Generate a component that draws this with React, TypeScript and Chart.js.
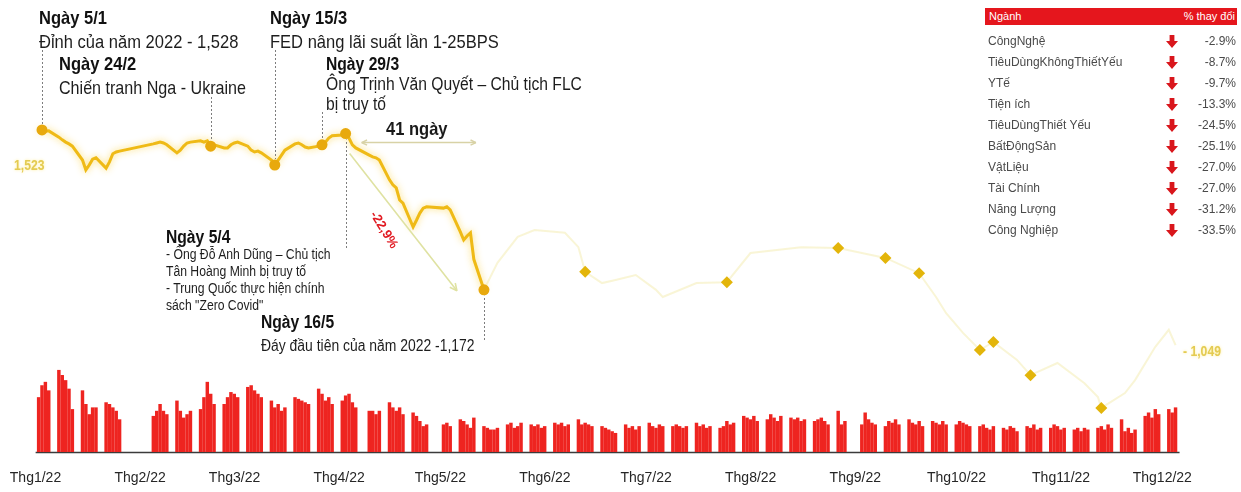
import { useEffect, useRef } from 'react';
import { Chart, registerables } from 'chart.js';

Chart.register(...registerables);

// ---- calendar -------------------------------------------------------------
const holidays = [
  '2022-01-03', '2022-01-31', '2022-02-01', '2022-02-02', '2022-02-03', '2022-02-04',
  '2022-04-11', '2022-05-02', '2022-05-03', '2022-09-01', '2022-09-02',
];
const firstSession = '2022-01-04';
const lastSession = '2022-12-07';

const monthLabels = [
  'Thg1/22', 'Thg2/22', 'Thg3/22', 'Thg4/22', 'Thg5/22', 'Thg6/22',
  'Thg7/22', 'Thg8/22', 'Thg9/22', 'Thg10/22', 'Thg11/22', 'Thg12/22',
];

// ---- HOSE matched volume per session (million shares) ----------------------
const volJan = [832, 1014, 1066, 936, 1248, 1170, 1092, 962, 650, 936, 728, 572, 676, 676, 754, 728, 676, 624, 494];
const volFeb = [546, 624, 728, 624, 572, 780, 624, 520, 572, 624, 650, 832, 1066, 884, 728, 728];
const volMar = [832, 910, 884, 832, 988, 1014, 936, 884, 832, 780, 676, 728, 624, 676, 832, 806, 780, 754, 728, 962, 884, 780, 832];
const volApr = [728, 780, 858, 884, 754, 676, 624, 624, 572, 624, 754, 676, 624, 676, 572, 598, 546, 468, 390, 416];
const volMay = [416, 442, 390, 494, 468, 416, 364, 520, 390, 364, 338, 338, 364, 416, 442, 364, 390, 442, 416, 390];
const volJun = [416, 364, 390, 442, 416, 442, 390, 416, 494, 416, 442, 416, 390, 390, 364, 338, 312, 286, 416, 364, 390, 338];
const volJul = [390, 442, 390, 364, 416, 390, 390, 416, 390, 364, 390, 442, 390, 416, 364, 390, 364, 390, 468, 416, 442];
const volAug = [546, 520, 494, 546, 468, 494, 572, 520, 468, 546, 520, 494, 520, 468, 494, 468, 494, 520, 468, 416, 624, 416, 468];
const volSep = [416, 598, 494, 442, 416, 390, 468, 442, 494, 416, 494, 442, 416, 468, 390, 468, 442, 416, 468, 416];
const volOct = [416, 468, 442, 416, 390, 390, 416, 364, 338, 390, 364, 338, 390, 364, 312, 390, 364, 416, 338, 364, 364];
const volNov = [416, 390, 338, 364, 338, 364, 312, 364, 338, 364, 390, 338, 416, 364, 494, 312, 364, 286, 338, 546, 598, 520];
const volDec = [650, 572, 650, 598, 676];

// ---- VN-Index close, 4/1 - 16/5 (every session) ----------------------------
const idxJan = [1523, 1528, 1525, 1526, 1512, 1506, 1501, 1497, 1492, 1461, 1439, 1450, 1463, 1466, 1443, 1457, 1475, 1479, 1481];
const idxFeb = [1497, 1499, 1501, 1499, 1495, 1477, 1483, 1492, 1499, 1501, 1504, 1501, 1504, 1492, 1495, 1488];
const idxMar = [1488, 1495, 1499, 1501, 1492, 1483, 1479, 1481, 1477, 1461, 1450, 1461, 1472, 1483, 1497, 1499, 1495, 1490, 1488, 1492, 1495, 1501, 1510];
const idxApr = [1515, 1517, 1520, 1510, 1495, 1488, 1472, 1468, 1466, 1461, 1417, 1406, 1399, 1372, 1365, 1312, 1327, 1343, 1354, 1357];
const idxMay = [1354, 1357, 1350, 1301, 1283, 1292, 1299, 1240, 1172];

// ---- VN-Index after the first bottom ---------------------------------------
const laterDates = [
  '2022-05-16', '2022-05-20', '2022-05-26', '2022-05-31', '2022-06-09', '2022-06-13', '2022-06-15',
  '2022-06-20', '2022-06-24', '2022-06-30', '2022-07-06', '2022-07-08', '2022-07-18', '2022-07-27',
  '2022-08-03', '2022-08-18', '2022-08-29', '2022-09-12', '2022-09-22', '2022-09-27', '2022-09-30',
  '2022-10-05', '2022-10-10', '2022-10-14', '2022-10-21', '2022-10-25', '2022-11-02', '2022-11-10',
  '2022-11-14', '2022-11-15', '2022-11-22', '2022-11-25', '2022-12-01', '2022-12-05', '2022-12-07',
];
const laterValues = [
  1172, 1232, 1290, 1305, 1299, 1267, 1212,
  1187, 1194, 1205, 1172, 1156, 1187, 1189,
  1254, 1267, 1265, 1243, 1209, 1156, 1120,
  1076, 1038, 1056, 1016, 982, 1009, 964,
  933, 909, 942, 971, 1045, 1083, 1049,
];

const eventDates = ['2022-01-05', '2022-02-24', '2022-03-15', '2022-03-29', '2022-04-05', '2022-05-16'];
const laterMarkDates = [
  '2022-06-15', '2022-07-27', '2022-08-29', '2022-09-12', '2022-09-22',
  '2022-10-10', '2022-10-14', '2022-10-25', '2022-11-15',
];

// ---- sector performance -----------------------------------------------------
const sectorNames = [
  'CôngNghệ', 'TiêuDùngKhôngThiếtYếu', 'YTế', 'Tiện ích', 'TiêuDùngThiết Yếu',
  'BấtĐộngSản', 'VậtLiệu', 'Tài Chính', 'Năng Lượng', 'Công Nghiệp',
];
const sectorChanges = [-2.9, -8.7, -9.7, -13.3, -24.5, -25.1, -27.0, -27.0, -31.2, -33.5];

// ---- helpers ----------------------------------------------------------------
const dayOfYear = (iso: string) => {
  const [yy, mm, dd] = iso.split('-').map(Number);
  return (Date.UTC(yy, mm - 1, dd) - Date.UTC(yy, 0, 1)) / 86400000 + 1;
};

const sessionsByMonth: number[][] = Array.from({ length: 12 }, () => []);
{
  const hol = new Set(holidays);
  const start = Date.UTC(2022, 0, 1);
  const end = Date.UTC(2022, 11, 7);
  for (let t = start; t <= end; t += 86400000) {
    const d = new Date(t);
    const iso = d.toISOString().slice(0, 10);
    const dow = d.getUTCDay();
    if (dow === 0 || dow === 6 || hol.has(iso)) continue;
    sessionsByMonth[d.getUTCMonth()].push(dayOfYear(iso));
  }
}

const bySession = (months: number[][]) =>
  months.flatMap((arr, m) => arr.map((v, i) => ({ x: sessionsByMonth[m][i], y: v })));

const volumePts = bySession([volJan, volFeb, volMar, volApr, volMay, volJun, volJul, volAug, volSep, volOct, volNov, volDec]);
const solidPts = bySession([idxJan, idxFeb, idxMar, idxApr, idxMay]);
const laterPts = laterDates.map((d, i) => ({ x: dayOfYear(d), y: laterValues[i] }));
const eventPts = eventDates.map((d) => solidPts.find((p) => p.x === dayOfYear(d))!);
const laterMarks = laterMarkDates.map((d) => laterPts.find((p) => p.x === dayOfYear(d))!);
const monthStarts = monthLabels.map((_, m) => dayOfYear(`2022-${String(m + 1).padStart(2, '0')}-01`));

const fmt = (v: number) => v.toLocaleString('en-US');
const yearTop = Math.max(...solidPts.map((p) => p.y));
const firstBottom = eventPts[5];
const aprilPeak = eventPts[4];
const dropPct = ((firstBottom.y / aprilPeak.y - 1) * 100).toFixed(1).replace('.', ',');
const dropDays = firstBottom.x - aprilPeak.x;

const SANS = '"Liberation Sans", Arial, sans-serif';

// ---- drawing helpers --------------------------------------------------------
function arrowHead(ctx: CanvasRenderingContext2D, x: number, y: number, ang: number, size: number) {
  ctx.beginPath();
  ctx.moveTo(x, y);
  ctx.lineTo(x - size * Math.cos(ang - 0.45), y - size * Math.sin(ang - 0.45));
  ctx.moveTo(x, y);
  ctx.lineTo(x - size * Math.cos(ang + 0.45), y - size * Math.sin(ang + 0.45));
  ctx.stroke();
}

const connectors = [
  { date: eventDates[0], from: 50 },
  { date: eventDates[1], from: 97 },
  { date: eventDates[2], from: 50 },
  { date: eventDates[3], from: 112 },
  { date: eventDates[4], from: 248 },
  { date: eventDates[5], from: 340 },
];

const overlayPlugin = {
  id: 'overlay',
  beforeDatasetsDraw(chart: any) {
    const { ctx, scales, chartArea } = chart;
    const x = scales.x;
    ctx.save();
    ctx.strokeStyle = '#3b3b3b';
    ctx.lineWidth = 1.5;
    ctx.beginPath();
    ctx.moveTo(x.getPixelForValue(dayOfYear(firstSession)) - 3, chartArea.bottom + 0.5);
    ctx.lineTo(x.getPixelForValue(dayOfYear(lastSession)) + 4, chartArea.bottom + 0.5);
    ctx.stroke();
    ctx.restore();
  },
  beforeDatasetDraw(chart: any, args: any) {
    if (args.index === 1) {
      const ctx = chart.ctx;
      ctx.save();
      ctx.shadowColor = 'rgba(252, 214, 80, 0.85)';
      ctx.shadowBlur = 7;
    }
  },
  afterDatasetDraw(chart: any, args: any) {
    if (args.index === 1) chart.ctx.restore();
  },
  afterDatasetsDraw(chart: any) {
    const { ctx, scales } = chart;
    const x = scales.x;
    const y = scales.y;
    ctx.save();
    // dotted leaders from the notes to their sessions
    ctx.strokeStyle = '#7d7d7d';
    ctx.lineWidth = 1;
    ctx.setLineDash([2, 2]);
    connectors.forEach((c) => {
      const p = solidPts.find((q) => q.x === dayOfYear(c.date))!;
      const px = Math.round(x.getPixelForValue(p.x)) + 0.5;
      const py = y.getPixelForValue(p.y);
      ctx.beginPath();
      ctx.moveTo(px, c.from);
      ctx.lineTo(px, py + (c.from > py ? 6 : -6));
      ctx.stroke();
    });
    ctx.setLineDash([]);

    // horizontal span: april peak -> first bottom
    const hx0 = x.getPixelForValue(aprilPeak.x) + 16;
    const hx1 = x.getPixelForValue(firstBottom.x) - 8;
    const hy = y.getPixelForValue(aprilPeak.y) + 9;
    ctx.strokeStyle = '#d8d2a6';
    ctx.lineWidth = 1.5;
    ctx.beginPath();
    ctx.moveTo(hx0, hy);
    ctx.lineTo(hx1, hy);
    ctx.stroke();
    arrowHead(ctx, hx0, hy, Math.PI, 6);
    arrowHead(ctx, hx1, hy, 0, 6);

    // diagonal drop arrow
    const dx0 = x.getPixelForValue(aprilPeak.x) + 4;
    const dy0 = y.getPixelForValue(aprilPeak.y) + 20;
    const dx1 = x.getPixelForValue(firstBottom.x) - 27;
    const dy1 = y.getPixelForValue(firstBottom.y) + 1;
    ctx.strokeStyle = '#dfe2a2';
    ctx.lineWidth = 1.6;
    ctx.beginPath();
    ctx.moveTo(dx0, dy0);
    ctx.lineTo(dx1, dy1);
    ctx.stroke();
    arrowHead(ctx, dx1, dy1, Math.atan2(dy1 - dy0, dx1 - dx0), 8);
    ctx.restore();
  },
};

// ---- component --------------------------------------------------------------
type NoteProps = { left: number; top: number; title: string; lines: string[]; lh: number; size: number; titleSize?: number };

// condensed look: regular face squeezed horizontally
function Note({ left, top, title, lines, lh, size, titleSize }: NoteProps) {
  return (
    <div
      style={{
        position: 'absolute', left, top, fontFamily: SANS, color: '#1d1d1d', whiteSpace: 'nowrap',
        transform: 'scaleX(0.87)', transformOrigin: 'left top',
      }}
    >
      <div style={{ fontWeight: 700, fontSize: titleSize ?? size, lineHeight: `${lh}px`, color: '#111' }}>{title}</div>
      {lines.map((l, i) => (
        <div key={i} style={{ fontSize: size, lineHeight: `${lh}px` }}>{l}</div>
      ))}
    </div>
  );
}

function DownArrow({ left, top }: { left: number; top: number }) {
  return (
    <svg width={12} height={13} viewBox="0 0 12 13" style={{ position: 'absolute', left, top }}>
      <path d="M3.6 0 H8.4 V6 H12 L6 13 L0 6 H3.6 Z" fill="#d9161c" />
    </svg>
  );
}

const squeezed = { transform: 'scaleX(0.87)', transformOrigin: 'left top', whiteSpace: 'nowrap' as const };

export default function App() {
  const ref = useRef<HTMLCanvasElement>(null);

  useEffect(() => {
    const canvas = ref.current;
    if (!canvas) return;
    const chart = new Chart(canvas, {
      type: 'line',
      data: {
        datasets: [
          {
            type: 'bar',
            label: 'Khối lượng',
            data: volumePts,
            yAxisID: 'yv',
            backgroundColor: '#ee2420',
            borderWidth: 0,
            barThickness: 2.8,
            order: 5,
          } as any,
          {
            label: 'VN-Index',
            data: solidPts,
            borderColor: '#efba16',
            borderWidth: 3,
            pointRadius: 0,
            tension: 0,
            order: 3,
          },
          {
            label: 'VN-Index sau đáy',
            data: laterPts,
            borderColor: 'rgba(238, 226, 140, 0.36)',
            borderWidth: 2,
            pointRadius: 0,
            tension: 0,
            order: 4,
          },
          {
            label: 'Sự kiện',
            data: eventPts,
            showLine: false,
            pointStyle: 'circle',
            pointRadius: 5.5,
            pointBackgroundColor: '#e8a90d',
            pointBorderWidth: 0,
            clip: false,
            order: 1,
          } as any,
          {
            label: 'Mốc',
            data: laterMarks,
            showLine: false,
            pointStyle: 'rectRot',
            pointRadius: 6,
            pointBackgroundColor: '#e3b50a',
            pointBorderWidth: 0,
            clip: false,
            order: 0,
          } as any,
        ],
      },
      options: {
        responsive: false,
        animation: false,
        devicePixelRatio: 1,
        layout: { padding: 0, autoPadding: false },
        plugins: { legend: { display: false }, tooltip: { enabled: false } },
        scales: {
          x: {
            type: 'linear',
            min: -7.45,
            max: 360.4,
            offset: false,
            grid: { display: false, drawTicks: false },
            border: { display: false },
            afterBuildTicks: (s: any) => {
              s.ticks = monthStarts.map((v) => ({ value: v }));
            },
            afterFit: (s: any) => {
              s.height = 40;
              s.paddingLeft = 0;
              s.paddingRight = 0;
            },
            ticks: {
              autoSkip: false,
              maxRotation: 0,
              labelOffset: 7,
              padding: 18,
              color: '#262626',
              font: { family: SANS, size: 14 },
              callback: (_v: any, i: number) => monthLabels[i],
            },
          },
          y: { type: 'linear', display: false, min: 810.8, max: 1817.5 },
          yv: { type: 'linear', display: false, min: 0, max: 6900 },
        },
      } as any,
      plugins: [overlayPlugin],
    });
    return () => chart.destroy();
  }, []);

  return (
    <div style={{ position: 'fixed', left: 0, top: 0, width: 1241, height: 492, background: '#fff', overflow: 'hidden' }}>
      <canvas ref={ref} width={1241} height={492} style={{ position: 'absolute', left: 0, top: 0, width: 1241, height: 492 }} />

      <Note left={39} top={6} lh={24} size={19} title="Ngày 5/1" lines={[`Đỉnh của năm 2022 - ${fmt(yearTop)}`]} />
      <Note left={59} top={52} lh={24} size={18.5} titleSize={19} title="Ngày 24/2" lines={['Chiến tranh Nga - Ukraine']} />
      <Note left={270} top={6} lh={24} size={19} title="Ngày 15/3" lines={['FED nâng lãi suất lần 1-25BPS']} />
      <Note left={326} top={54} lh={20} size={18} title="Ngày 29/3" lines={['Ông Trịnh Văn Quyết – Chủ tịch FLC', 'bị truy tố']} />
      <Note
        left={166}
        top={229}
        lh={17}
        size={14}
        titleSize={18}
        title="Ngày 5/4"
        lines={['- Ông Đỗ Anh Dũng – Chủ tịch', 'Tân Hoàng Minh bị truy tố', '- Trung Quốc thực hiện chính', 'sách "Zero Covid"']}
      />
      <div
        style={{
          position: 'absolute', left: 261, top: 311, fontFamily: SANS, color: '#1d1d1d', ...squeezed,
        }}
      >
        <div style={{ fontWeight: 700, fontSize: 18, lineHeight: '23px', color: '#111' }}>Ngày 16/5</div>
        <div style={{ fontSize: 16, lineHeight: '23px' }}>{`Đáy đầu tiên của năm 2022 -${fmt(firstBottom.y)}`}</div>
      </div>

      <div style={{ position: 'absolute', left: 386, top: 118, fontFamily: SANS, fontWeight: 700, fontSize: 19, color: '#1a1a1a', ...squeezed }}>
        {dropDays} ngày
      </div>
      <div
        style={{
          position: 'absolute', left: 364, top: 222, fontFamily: SANS, fontWeight: 700, fontSize: 13,
          color: '#e11a22', transform: 'rotate(58deg)', transformOrigin: 'center', whiteSpace: 'nowrap',
        }}
      >
        {dropPct}%
      </div>

      <div style={{ position: 'absolute', left: 14, top: 157, fontFamily: SANS, fontWeight: 700, fontSize: 14, color: '#e4cb52', textShadow: '0 0 3px rgba(255,236,140,0.9)', ...squeezed }}>
        {fmt(solidPts[0].y)}
      </div>
      <div style={{ position: 'absolute', left: 1183, top: 343, fontFamily: SANS, fontWeight: 700, fontSize: 14, color: '#e4cb52', textShadow: '0 0 3px rgba(255,236,140,0.9)', ...squeezed }}>
        - {fmt(laterPts[laterPts.length - 1].y)}
      </div>

      {/* sector table */}
      <div style={{ position: 'absolute', left: 985, top: 8, width: 252, height: 17, background: '#e5161d', fontFamily: SANS, fontSize: 11, color: '#fff' }}>
        <span style={{ position: 'absolute', left: 4, top: 2 }}>Ngành</span>
        <span style={{ position: 'absolute', right: 2, top: 2 }}>% thay đổi</span>
      </div>
      {sectorNames.map((n, i) => (
        <div key={n} style={{ position: 'absolute', left: 985, top: 34 + 21 * i, width: 252, height: 16, fontFamily: SANS, fontSize: 12, color: '#4a4a4a' }}>
          <span style={{ position: 'absolute', left: 3, top: 0 }}>{n}</span>
          <DownArrow left={181} top={1} />
          <span style={{ position: 'absolute', right: 1, top: 0 }}>{sectorChanges[i].toFixed(1)}%</span>
        </div>
      ))}
    </div>
  );
}
